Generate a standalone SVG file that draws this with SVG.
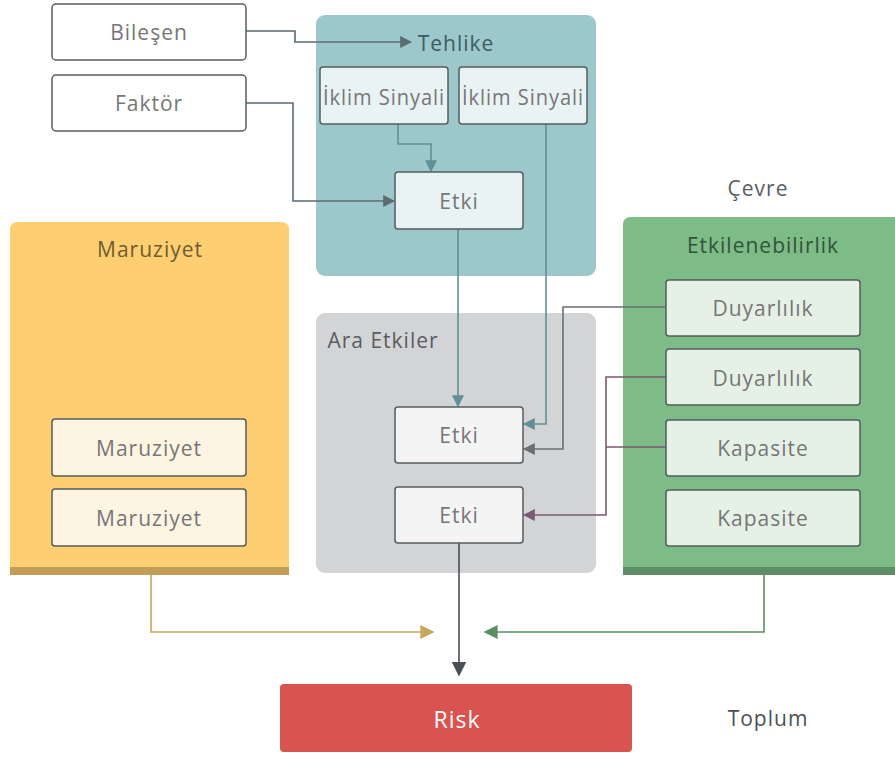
<svg xmlns="http://www.w3.org/2000/svg" width="895" height="758" viewBox="0 0 895 758">
  <defs>
    <style>
      text { font-family: "Open Sans", "Liberation Sans", sans-serif; text-anchor: middle; dominant-baseline: central; letter-spacing: 1px; }
      .box { stroke: #555c60; stroke-width: 1.5; }
      .lbl { font-size: 21px; fill: #767676; }
      .title { font-size: 21px; }
      .wire { fill: none; stroke-width: 1.6; }
    </style>
    <marker id="a-dark" viewBox="0 0 10 10" refX="9" refY="5" markerWidth="12" markerHeight="12" markerUnits="userSpaceOnUse" orient="auto"><path d="M0,0 L10,5 L0,10 z" fill="#5b6b70"/></marker>
    <marker id="a-teal" viewBox="0 0 10 10" refX="9" refY="5" markerWidth="12" markerHeight="12" markerUnits="userSpaceOnUse" orient="auto"><path d="M0,0 L10,5 L0,10 z" fill="#5f8f97"/></marker>
    <marker id="a-gray" viewBox="0 0 10 10" refX="9" refY="5" markerWidth="12" markerHeight="12" markerUnits="userSpaceOnUse" orient="auto"><path d="M0,0 L10,5 L0,10 z" fill="#6b6e72"/></marker>
    <marker id="a-plum" viewBox="0 0 10 10" refX="9" refY="5" markerWidth="12" markerHeight="12" markerUnits="userSpaceOnUse" orient="auto"><path d="M0,0 L10,5 L0,10 z" fill="#7a5a70"/></marker>
    <marker id="a-gold" viewBox="0 0 10 10" refX="9" refY="5" markerWidth="14" markerHeight="14" markerUnits="userSpaceOnUse" orient="auto"><path d="M0,0 L10,5 L0,10 z" fill="#c6a65b"/></marker>
    <marker id="a-green" viewBox="0 0 10 10" refX="9" refY="5" markerWidth="14" markerHeight="14" markerUnits="userSpaceOnUse" orient="auto"><path d="M0,0 L10,5 L0,10 z" fill="#5a8f64"/></marker>
    <marker id="a-black" viewBox="0 0 10 10" refX="9" refY="5" markerWidth="15" markerHeight="15" markerUnits="userSpaceOnUse" orient="auto"><path d="M0,0 L10,5 L0,10 z" fill="#4a4f55"/></marker>
  </defs>

  <rect width="895" height="758" fill="#ffffff"/>

  <!-- group panels -->
  <g id="panel-tehlike">
    <rect x="316" y="15" width="280" height="261" rx="9" fill="#9dc8cb"/>
  </g>
  <g id="panel-ara">
    <rect x="316" y="313" width="280" height="260" rx="9" fill="#d3d4d6"/>
    <text x="383" y="340" class="title" fill="#5a5c60">Ara Etkiler</text>
  </g>
  <g id="panel-maruziyet">
    <path d="M10,575 V230 Q10,222 18,222 H281 Q289,222 289,230 V575 Z" fill="#fecf70"/>
    <rect x="10" y="567" width="279" height="8" fill="#c19d57"/>
    <text x="150" y="249" class="title" fill="#6e5c34">Maruziyet</text>
  </g>
  <g id="panel-etkilenebilirlik">
    <path d="M623,575 V225 Q623,217 631,217 H895 V575 Z" fill="#7dbb87"/>
    <rect x="623" y="567" width="272" height="8" fill="#5e8d66"/>
    <text x="763" y="245" class="title" fill="#32533a">Etkilenebilirlik</text>
  </g>

  <!-- connectors -->
  <g id="connectors">
    <path class="wire" stroke="#5b6b70" d="M246,31 H295 V42 H411" marker-end="url(#a-dark)"/>
    <path class="wire" stroke="#5b6b70" d="M246,103 H293 V201 H394" marker-end="url(#a-dark)"/>
    <path class="wire" stroke="#5f8f97" d="M398,124 V144 H431 V171" marker-end="url(#a-teal)"/>
    <path class="wire" stroke="#5f8f97" d="M458,229 V406" marker-end="url(#a-teal)"/>
    <path class="wire" stroke="#5f8f97" d="M546,124 V424 H524" marker-end="url(#a-teal)"/>
    <path class="wire" stroke="#6b6e72" d="M666,307 H563 V449 H524" marker-end="url(#a-gray)"/>
    <path class="wire" stroke="#7a5a70" d="M666,377 H606 V515 H524" marker-end="url(#a-plum)"/>
    <path class="wire" stroke="#7a5a70" d="M666,447 H606"/>
    <path class="wire" stroke="#c6a65b" stroke-width="2.2" d="M151,575 V632 H433" marker-end="url(#a-gold)"/>
    <path class="wire" stroke="#5a8f64" stroke-width="2.2" d="M764,575 V632 H485" marker-end="url(#a-green)"/>
    <path class="wire" stroke="#4a4f55" stroke-width="3" d="M459,543 V675" marker-end="url(#a-black)"/>
  </g>

  <!-- nodes -->
  <g id="bilesen">
    <rect class="box" x="52" y="4" width="194" height="56" rx="4" fill="#ffffff" stroke="#7a7f82"/>
    <text x="149" y="32" class="lbl">Bileşen</text>
  </g>
  <g id="faktor">
    <rect class="box" x="52" y="75" width="194" height="56" rx="4" fill="#ffffff" stroke="#7a7f82"/>
    <text x="149" y="103" class="lbl">Faktör</text>
  </g>
  <g id="tehlike">
    <text x="456" y="43" class="title" fill="#3e5b60">Tehlike</text>
  </g>
  <g id="iklim-1">
    <rect class="box" x="320" y="67" width="128" height="57" rx="3" fill="#e9f3f4"/>
    <text x="384" y="97" class="lbl" font-size="20" letter-spacing="0" textLength="122" lengthAdjust="spacingAndGlyphs">İklim Sinyali</text>
  </g>
  <g id="iklim-2">
    <rect class="box" x="459" y="67" width="128" height="57" rx="3" fill="#e9f3f4"/>
    <text x="523" y="97" class="lbl" font-size="20" letter-spacing="0" textLength="122" lengthAdjust="spacingAndGlyphs">İklim Sinyali</text>
  </g>
  <g id="etki-tehlike">
    <rect class="box" x="395" y="172" width="128" height="57" rx="3" fill="#e9f3f4"/>
    <text x="459" y="201" class="lbl">Etki</text>
  </g>
  <g id="etki-ara-1">
    <rect class="box" x="395" y="407" width="128" height="56" rx="3" fill="#f4f4f5"/>
    <text x="459" y="435" class="lbl">Etki</text>
  </g>
  <g id="etki-ara-2">
    <rect class="box" x="395" y="487" width="128" height="56" rx="3" fill="#f4f4f5"/>
    <text x="459" y="515" class="lbl">Etki</text>
  </g>
  <g id="maruziyet-1">
    <rect class="box" x="52" y="419" width="194" height="57" rx="3" fill="#fdf4e2"/>
    <text x="149" y="448" class="lbl">Maruziyet</text>
  </g>
  <g id="maruziyet-2">
    <rect class="box" x="52" y="489" width="194" height="57" rx="3" fill="#fdf4e2"/>
    <text x="149" y="518" class="lbl">Maruziyet</text>
  </g>
  <g id="cevre">
    <text x="758" y="188" class="title" fill="#5a5c60">Çevre</text>
  </g>
  <g id="duyarlilik-1">
    <rect class="box" x="666" y="280" width="194" height="56" rx="3" fill="#e6f1e6" stroke="#6b6e72"/>
    <text x="763" y="308" class="lbl">Duyarlılık</text>
  </g>
  <g id="duyarlilik-2">
    <rect class="box" x="666" y="349" width="194" height="56" rx="3" fill="#e6f1e6" stroke="#6b6e72"/>
    <text x="763" y="378" class="lbl">Duyarlılık</text>
  </g>
  <g id="kapasite-1">
    <rect class="box" x="666" y="420" width="194" height="56" rx="3" fill="#e6f1e6" stroke="#c0433c"/>
    <text x="763" y="448" class="lbl">Kapasite</text>
  </g>
  <g id="kapasite-2">
    <rect class="box" x="666" y="490" width="194" height="56" rx="3" fill="#e6f1e6" stroke="#c0433c"/>
    <text x="763" y="518" class="lbl">Kapasite</text>
  </g>
  <g id="risk">
    <rect x="280" y="684" width="352" height="68" rx="4" fill="#d9534f"/>
    <text x="457" y="719" font-size="23" fill="#ffffff">Risk</text>
  </g>
  <g id="toplum">
    <text x="768" y="718" font-size="21" fill="#4a4f55">Toplum</text>
  </g>
</svg>
